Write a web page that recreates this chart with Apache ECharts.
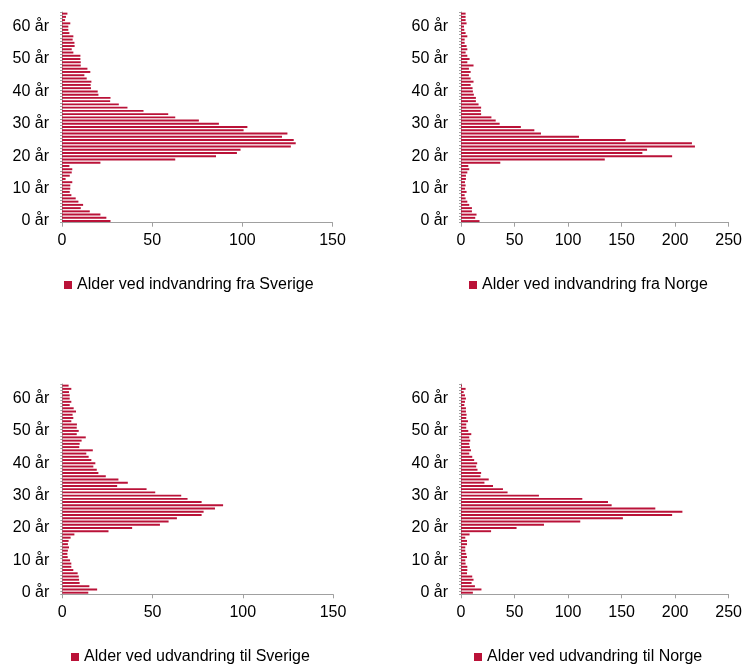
<!DOCTYPE html>
<html>
<head>
<meta charset="utf-8">
<script src="https://cdn.jsdelivr.net/npm/echarts@6/dist/echarts.min.js"></script>
<style>
html,body{margin:0;padding:0;background:#fff;}
#chart{width:745px;height:665px;}
</style>
</head>
<body>
<div id="chart"></div>
<script>
// Ages 0..64
var ages = [];
for (var a = 0; a <= 64; a++) { ages.push(a + ' år'); }

var seriesNames = [
  'Alder ved indvandring fra Sverige',
  'Alder ved indvandring fra Norge',
  'Alder ved udvandring til Sverige',
  'Alder ved udvandring til Norge'
];

var indSverige = [26.9,24.6,21.3,15.4,10.4,11.7,9.1,7.6,5.2,4.3,4.6,4.6,5.7,2.0,4.3,5.4,5.7,4.1,21.3,62.8,85.4,97,99,126.9,129.6,128.5,122,125,100.7,102.8,87.0,75.9,62.8,58.9,45.2,36.3,31.5,26.7,26.9,20.2,19.8,16.1,15.9,16.3,13.7,12.4,15.7,14.1,10.4,10.4,10.2,10.2,6.3,5.4,7.0,6.9,5.9,6.3,4.1,3.5,3.5,4.6,1.7,2.2,3.0];

var indNorge = [17.3,13.3,14.5,10.2,10.2,7.7,5.9,4.3,3.4,5.2,3.7,4.3,3.7,4.6,4.6,5.9,7.7,6.8,36.7,134.3,197.2,169.4,173.8,218.5,215.7,153.7,110.2,74.7,68.5,55.9,36.1,32.4,28.4,18.8,18.5,18.8,16.4,13.9,13.9,12.0,11.1,10.8,9.0,11.7,9.0,7.4,9.0,7.4,11.7,5.9,8.0,5.9,4.3,5.9,5.2,3.4,3.4,5.9,4.3,3.1,2.8,5.2,4.3,4.3,4.3];

var udSverige = [14.4,19.3,15.0,9.6,9.3,9.1,8.5,6.1,5.0,5.0,4.3,3.0,2.8,3.1,3.7,3.1,3.5,4.6,6.7,25.6,38.7,54.1,58.9,63.5,77.2,78.3,84.6,89.1,77.2,69.4,65.9,51.5,46.7,30.4,36.3,31.1,24.1,20.0,19.1,17.2,18.3,16.1,14.6,13.3,16.9,9.4,9.6,10.7,13.0,8.0,9.1,8.0,8.1,5.0,6.1,5.7,7.6,6.3,4.1,5.0,4.1,4.1,3.7,5.0,3.5];

var udNorge = [11.1,19.1,13.0,9.9,11.7,10.5,5.6,5.9,5.9,4.3,4.0,5.6,4.9,4.0,4.0,5.6,5.6,4.0,8.0,28.1,51.9,77.5,111.4,151.2,197.2,206.8,181.5,140.7,137.3,113.3,72.8,43.5,39.2,29.9,21.9,25.9,18.2,18.8,15.4,14.2,15.1,12.3,10.5,7.7,9.3,8.3,7.7,8.6,7.7,9.6,6.8,4.9,4.9,6.5,4.9,5.2,4.6,4.6,3.1,3.7,4.6,3.7,2.5,4.3,0.9];

var allData = [indSverige, indNorge, udSverige, udNorge];
var xMax = [150, 250, 150, 250];
var xInterval = [50, 50, 50, 50];

var barColor = '#BA1238';
var axisColor = '#A0A0A0';
var fontFamily = '"Liberation Sans", Arial, sans-serif';

var grids = [
  {left: 62, top: 12, width: 270.5, height: 210.7},
  {left: 461, top: 12, width: 271.3, height: 210.7},
  {left: 62.3, top: 384, width: 270.7, height: 210.3},
  {left: 461, top: 384, width: 271, height: 210.3}
];
var legendPos = [
  {left: 64, top: 277},
  {left: 469, top: 277},
  {left: 71, top: 649},
  {left: 474, top: 649}
];

var xAxes = [], yAxes = [], series = [], legends = [];
for (var i = 0; i < 4; i++) {
  xAxes.push({
    type: 'value', gridIndex: i, min: 0, max: xMax[i], interval: xInterval[i],
    splitLine: {show: false},
    axisLine: {show: true, lineStyle: {color: axisColor, width: 1}},
    axisTick: {show: true, length: 4, lineStyle: {color: axisColor}},
    axisLabel: {color: '#000', fontSize: 16, fontFamily: fontFamily, margin: 10}
  });
  yAxes.push({
    type: 'category', gridIndex: i, data: ages,
    axisLine: {show: true, lineStyle: {color: axisColor, width: 1}},
    axisTick: {show: true, length: 2, interval: 0, lineStyle: {color: axisColor}},
    axisLabel: {
      color: '#000', fontSize: 16, fontFamily: fontFamily, margin: 13,
      interval: function (idx) { return idx % 10 === 0; }
    }
  });
  series.push({
    name: seriesNames[i], type: 'bar', xAxisIndex: i, yAxisIndex: i,
    data: allData[i], barCategoryGap: '40%',
    itemStyle: {color: barColor},
    silent: true, animation: false
  });
  legends.push({
    data: [seriesNames[i]], left: legendPos[i].left, top: legendPos[i].top,
    padding: 0, icon: 'rect', itemWidth: 8, itemHeight: 8,
    textStyle: {color: '#000', fontSize: 16, fontFamily: fontFamily, lineHeight: 16},
    selectedMode: false
  });
}

var chart = echarts.init(document.getElementById('chart'), null, {renderer: 'canvas'});
chart.setOption({
  animation: false,
  backgroundColor: '#fff',
  grid: grids,
  xAxis: xAxes,
  yAxis: yAxes,
  series: series,
  legend: legends
});
</script>
</body>
</html>
